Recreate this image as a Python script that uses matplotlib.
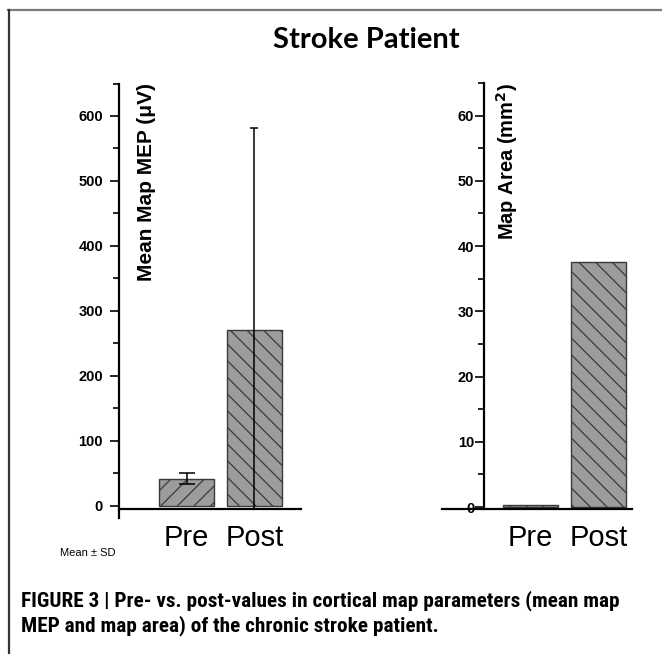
import numpy as np
import matplotlib
matplotlib.use("Agg")
import matplotlib.pyplot as plt
from matplotlib.lines import Line2D
from matplotlib.ticker import MultipleLocator
from matplotlib import font_manager

# ---------------- data ----------------
categories = ["Pre", "Post"]
mep_mean = [42, 270]
mep_sd = [8.5, 311]
area_mean = [0.3, 37.5]
mep_ticks = [0, 100, 200, 300, 400, 500, 600]
area_ticks = [0, 10, 20, 30, 40, 50, 60]

W, H = 662, 654
fig = plt.figure(figsize=(W / 100, H / 100), dpi=100)
fig.patch.set_facecolor("white")

ARIAL = ["Liberation Sans", "DejaVu Sans"]
BAR_FC = "#9c9c9c"
BAR_EC = "#3a3a3a"
plt.rcParams["hatch.linewidth"] = 0.9
plt.rcParams["hatch.color"] = "#222222"


def px_axes(x0, x1, ytop, ybot):
    return fig.add_axes([x0 / W, 1 - ybot / H, (x1 - x0) / W, (ybot - ytop) / H])


def style_axis(ax, ylab_pad):
    for s in ["top", "right"]:
        ax.spines[s].set_visible(False)
    for s in ["left", "bottom"]:
        ax.spines[s].set_linewidth(1.6)
        ax.spines[s].set_color("black")
    ax.tick_params(axis="y", which="major", direction="out", length=6.5, width=1.2,
                   pad=ylab_pad, labelsize=10.5)
    ax.tick_params(axis="y", which="minor", direction="out", length=4.3, width=1.2)
    ax.tick_params(axis="x", length=0, pad=11, labelsize=21)
    for lab in ax.get_yticklabels():
        lab.set_fontfamily(ARIAL)
        lab.set_fontweight("bold")
    for lab in ax.get_xticklabels():
        lab.set_fontfamily(ARIAL)


x = np.arange(1, len(categories) + 1)
hatches = ["//", "\\\\"]

# ---------------- left panel: mean map MEP ----------------
axL = px_axes(119, 301, 83.5, 518)
axis_level_L = -4.6
axL.set_xlim(0.007, 2.684)
axL.set_ylim(-18.5, 650)
axL.spines["bottom"].set_position(("data", axis_level_L))
bars = axL.bar(x, mep_mean, width=0.81, color=BAR_FC, edgecolor=BAR_EC, linewidth=1.0)
for b, h in zip(bars, hatches):
    b.set_hatch(h)
caps = [5.5, 2.6]
for xi, m, sd, cs in zip(x, mep_mean, mep_sd, caps):
    lower = min(sd, m - axis_level_L)
    axL.errorbar(xi, m, yerr=[[lower], [sd]], fmt="none", ecolor="black",
                 elinewidth=1.1, capsize=cs, capthick=1.1, zorder=3)
axL.yaxis.set_major_locator(MultipleLocator(100))
axL.yaxis.set_minor_locator(MultipleLocator(50))
axL.set_yticks(mep_ticks)
axL.set_xticks(x)
axL.set_xticklabels(categories)
style_axis(axL, 5)

# ---------------- right panel: map area ----------------
axR = px_axes(442, 632, 83, 509)
axR.set_xlim(-0.30, 2.49)
axR.set_ylim(-0.3, 65)
axR.spines["left"].set_position(("data", 0.316))
bars = axR.bar(x, area_mean, width=0.81, color=BAR_FC, edgecolor=BAR_EC, linewidth=1.0)
for b, h in zip(bars, hatches):
    b.set_hatch(h)
axR.yaxis.set_major_locator(MultipleLocator(10))
axR.yaxis.set_minor_locator(MultipleLocator(5))
axR.set_yticks(area_ticks)
axR.set_xticks(x)
axR.set_xticklabels(categories)
style_axis(axR, 0.5)

# ---------------- axis titles (inside plots) ----------------
fig.text(147 / W, 1 - 83 / H, "Mean Map MEP (\u03bcV)", rotation=90, ha="center",
         va="top", fontsize=15, fontweight="bold", family=ARIAL)
fig.text(507 / W, 1 - 83 / H, "Map Area (mm$^{\\mathbf{2}}$)", rotation=90, ha="center",
         va="top", fontsize=14.5, fontweight="bold", family=ARIAL)

# ---------------- title, note ----------------
fig.text(366 / W, 1 - 40 / H, "Stroke Patient", ha="center", va="center",
         fontsize=21, fontweight="bold", family=["Lato", "DejaVu Sans"])
fig.text(60 / W, 1 - 553 / H, "Mean \u00b1 SD", ha="left", va="center",
         fontsize=8, family=ARIAL)

# ---------------- caption (condensed bold if available) ----------------
ttf = font_manager.fontManager.ttflist
names = {f.name for f in ttf}
cap_kw = dict(fontweight="bold")
if "Liberation Sans Narrow" in names:
    cap_kw["family"] = ["Liberation Sans Narrow", "DejaVu Sans"]
elif "Roboto Condensed" in names:
    cap_kw["family"] = ["Roboto Condensed", "DejaVu Sans"]
elif any(f.name == "DejaVu Sans" and "condensed" in str(f.stretch) for f in ttf):
    cap_kw["family"] = ["DejaVu Sans"]
    cap_kw["fontstretch"] = "condensed"
else:
    cap_kw["family"] = ["Liberation Sans", "DejaVu Sans"]

line1 = "FIGURE 3 | Pre- vs. post-values in cortical map parameters (mean map"
line2 = "MEP and map area) of the chronic stroke patient."
t1 = fig.text(21 / W, 1 - 601 / H, line1, ha="left", va="center", fontsize=13, **cap_kw)
t2 = fig.text(21 / W, 1 - 626 / H, line2, ha="left", va="center", fontsize=13, **cap_kw)
renderer = fig.canvas.get_renderer()
target_w = 622.0
wcur = t1.get_window_extent(renderer).width
fs = min(13 * target_w / wcur, 15.3)
t1.set_fontsize(fs)
t2.set_fontsize(fs)

# ---------------- border frame ----------------
fig.add_artist(Line2D([8 / W, 1], [1 - 10 / H, 1 - 10 / H], transform=fig.transFigure,
                      color="#7a7a7a", linewidth=1.6))
fig.add_artist(Line2D([8.5 / W, 8.5 / W], [1 - 10 / H, 0], transform=fig.transFigure,
                      color="#333333", linewidth=1.6))

fig.savefig("out.png", dpi=100)
